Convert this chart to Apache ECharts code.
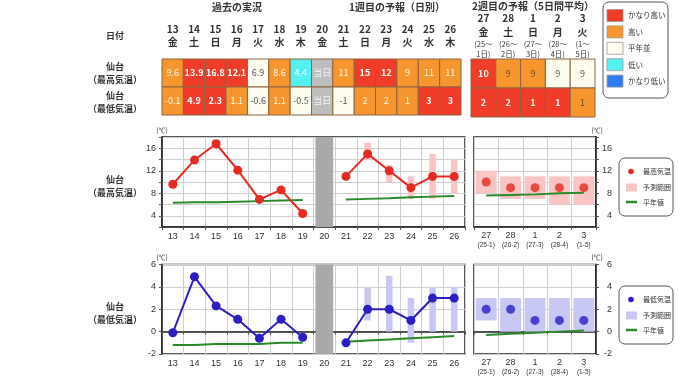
<!DOCTYPE html>
<html><head><meta charset="utf-8">
<script src="https://cdn.jsdelivr.net/npm/echarts@6/dist/echarts.min.js"></script>
<style>html,body{margin:0;padding:0;background:#fff}#c{width:680px;height:382px}</style>
</head><body><div id="c"></div>
<script>
// ---------- data ----------
const days = ['13','14','15','16','17','18','19','20','21','22','23','24','25','26'];
const weekdays = ['金','土','日','月','火','水','木','金','土','日','月','火','水','木'];
const maxValues = [9.6,13.9,16.8,12.1,6.9,8.6,4.4,null,11,15,12,9,11,11];
const minValues = [-0.1,4.9,2.3,1.1,-0.6,1.1,-0.5,null,-1,2,2,1,3,3];
const maxClass = ['H','VH','VH','VH','N','H','L','T','H','VH','VH','H','H','H'];
const minClass = ['H','VH','VH','H','N','H','N','T','N','H','H','H','VH','VH'];
const maxRangeLo = [null,null,null,null,null,null,null,null,null,14,10,7,7,8];
const maxRangeHi = [null,null,null,null,null,null,null,null,null,17,13,11,15,14];
const minRangeLo = [null,null,null,null,null,null,null,null,null,1,0,-1,0,0];
const minRangeHi = [null,null,null,null,null,null,null,null,null,4,5,3,4,4];
const maxNormal = [6.3,6.4,6.4,6.5,6.6,6.7,6.8,null,6.9,7.0,7.1,7.3,7.4,7.5];
const minNormal = [-1.2,-1.2,-1.1,-1.1,-1.1,-1.0,-1.0,null,-0.9,-0.8,-0.7,-0.6,-0.5,-0.4];
const todayIndex = 7;

const week2Days = ['27','28','1','2','3'];
const week2Wd = ['金','土','日','月','火'];
const week2Span = ['(25～','(26～','(27～','(28～','(1～'];
const week2SpanEnd = ['1日)','2日)','3日)','4日)','5日)'];
const week2Short = ['(25-1)','(26-2)','(27-3)','(28-4)','(1-5)'];
const week2Max = [10,9,9,9,9];
const week2Min = [2,2,1,1,1];
const week2MaxClass = ['VH','H','H','N','N'];
const week2MinClass = ['VH','VH','VH','VH','H'];
const week2MaxLo = [8,7,7,6,6];
const week2MaxHi = [12,11,11,11,11];
const week2MinLo = [1,0,0,0,0];
const week2MinHi = [3,3,3,3,3];
const week2MaxNormal = [7.6,7.7,7.8,8.0,8.1];
const week2MinNormal = [-0.3,-0.2,-0.1,0.0,0.1];

const classNames = ['かなり高い','高い','平年並','低い','かなり低い'];
// ---------- styles ----------
const FF = '"Noto Sans CJK JP", sans-serif';
const NF = '"Liberation Sans", sans-serif';
const CLS = {VH:'#f03c28', H:'#f7962e', N:'#fdfcee', L:'#55f0f0', VL:'#2f7cf2', T:'#bdbdbd'};
const legendCls = ['VH','H','N','L','VL'];
const RED = '#e62a22', BLUE = '#2a1ec4', GREEN = '#2a8a2a';
const PINK = '#f8c4c4', LAV = '#c8c8f4';

const chart = echarts.init(document.getElementById('c'));

function cellSeries(xi, yi, texts, classes, darkOrange){
  const cells = [];
  texts.forEach((row, r) => row.forEach((t, c) => cells.push({c, r, t, k: classes[r][c]})));
  return {
    type:'custom', xAxisIndex:xi, yAxisIndex:yi, clip:false, silent:true,
    data: cells.map(o => [o.c, o.r]),
    encode:{x:0, y:1},
    renderItem(params, api){
      const o = cells[params.dataIndex];
      const p = api.coord([api.value(0), api.value(1)]);
      const s = api.size([1,1]);
      let tc = '#fff', fw = 'bold';
      if (o.k === 'N') { tc = '#555'; fw = 'normal'; }
      if (o.k === 'H') { tc = darkOrange ? '#6a4a28' : '#fff8e8'; fw = 'normal'; }
      if (o.k === 'L') { tc = '#f4ffff'; fw = 'normal'; }
      if (o.k === 'T') { tc = '#f4f4f4'; fw = 'normal'; }
      return {type:'group', children:[
        {type:'rect', shape:{x:p[0]-s[0]/2, y:p[1]-s[1]/2, width:s[0], height:s[1]},
         style:{fill:CLS[o.k], stroke:'#8e6440', lineWidth:1}},
        {type:'text', x:p[0], y:p[1], style:{text:o.t, align:'center', verticalAlign:'middle',
         textAlign:'center', textVerticalAlign:'middle', fill:tc, font:fw+' 9px '+FF}}
      ]};
    }
  };
}

function rangeSeries(xi, lo, hi, color, ratio){
  const data = [];
  lo.forEach((v, i) => { if (v != null) data.push([i, v, hi[i]]); });
  return {
    type:'custom', xAxisIndex:xi, yAxisIndex:xi, silent:true, z:2,
    data, encode:{x:0, y:[1,2]},
    renderItem(params, api){
      const a = api.coord([api.value(0), api.value(2)]);
      const b = api.coord([api.value(0), api.value(1)]);
      const w = api.size([1,0])[0] * ratio;
      return {type:'rect', shape:{x:a[0]-w/2, y:a[1], width:w, height:b[1]-a[1]}, style:{fill:color}};
    }
  };
}

function bandSeries(xi, yv){
  return {
    type:'custom', xAxisIndex:xi, yAxisIndex:xi, silent:true, z:2, clip:false,
    data:[[todayIndex, yv]], encode:{x:0, y:1},
    renderItem(params, api){
      const cs = params.coordSys;
      const p = api.coord([api.value(0), api.value(1)]);
      const w = api.size([1,0])[0] * 0.82;
      return {type:'rect', shape:{x:p[0]-w/2, y:cs.y, width:w, height:cs.height}, style:{fill:'#a9a9a9'}};
    }
  };
}

function lineSeries(xi, data, color, isNormal){
  return isNormal ? {
    type:'line', xAxisIndex:xi, yAxisIndex:xi, data, showSymbol:false, symbol:'none', z:3,
    lineStyle:{color, width:2}, silent:true
  } : {
    type:'line', xAxisIndex:xi, yAxisIndex:xi, data, symbol:'circle', symbolSize:9, z:4,
    itemStyle:{color}, lineStyle:{color, width:2}, silent:true
  };
}

const gridBase = {show:true, borderColor:'#222', borderWidth:1.5, backgroundColor:'#fff'};
const grids = [
  {left:162, top:59, width:299, height:56},
  {left:471, top:59, width:124, height:58},
  Object.assign({left:162, top:137, width:303, height:90}, gridBase),
  Object.assign({left:474, top:137, width:122, height:90}, gridBase),
  Object.assign({left:162, top:264.5, width:303, height:89.5}, gridBase),
  Object.assign({left:474, top:264.5, width:122, height:89.5}, gridBase)
];

function chartX(gi, data, right){
  return {
    type:'category', gridIndex:gi, data, boundaryGap:true,
    axisLine:{show:true, lineStyle:{color:'#222', width:1.5}},
    axisTick:{show:true, length:3, lineStyle:{color:'#555'}},
    splitLine:{show:true, lineStyle:{color:'#cfcfcf', width:1}},
    axisLabel: right ? {
      margin:4, interval:0,
      formatter:(v, i) => '{a|' + v + '}\n{b|' + week2Short[i] + '}',
      rich:{a:{fontFamily:NF, fontSize:9, color:'#333', lineHeight:10}, b:{fontFamily:NF, fontSize:6.5, color:'#333', lineHeight:8}}
    } : {margin:5, interval:0, fontFamily:NF, fontSize:9, color:'#333'}
  };
}
function chartY(gi, min, max, labelFn, right){
  return {
    type:'value', gridIndex:gi, min, max, interval:2, position: right ? 'right' : 'left',
    axisLine:{show:true, lineStyle:{color:'#222', width:1.5}},
    axisTick:{show:true, length:3, lineStyle:{color:'#555'}},
    splitLine:{show:true, lineStyle:{color:'#cfcfcf', width:1}},
    axisLabel: Object.assign({show:true, formatter:labelFn, fontFamily:NF, fontSize:9, color:'#333'},
      right ? {align:'right', margin:16} : {margin:6})
  };
}
const topLbl = v => (v % 4 === 0) ? String(v) : '';
const botLbl = v => String(v);

const graphics = [];
function T(x, y, text, font, fill, align){
  graphics.push({type:'text', x, y, silent:true, style:{text, font, fill: fill || '#333',
    align: align || 'center', verticalAlign:'middle', textAlign: align || 'center', textVerticalAlign:'middle'}});
}
// headings
T(237, 7, '過去の実況', 'bold 10px ' + FF);
T(397, 7, '1週目の予報（日別）', 'bold 10px ' + FF);
T(533, 6, '2週目の予報（5日間平均）', 'bold 10px ' + FF);
T(115, 36, '日付', 'bold 9px ' + FF);
T(115, 67, '仙台', 'bold 9px ' + FF);
T(115, 80, '（最高気温）', 'bold 9px ' + FF);
T(115, 96, '仙台', 'bold 9px ' + FF);
T(115, 109, '（最低気温）', 'bold 9px ' + FF);
T(115, 180, '仙台', 'bold 9px ' + FF);
T(115, 193, '（最高気温）', 'bold 9px ' + FF);
T(115, 307, '仙台', 'bold 9px ' + FF);
T(115, 320, '（最低気温）', 'bold 9px ' + FF);
T(162, 130, '(℃)', '7px ' + FF);
T(597, 130, '(℃)', '7px ' + FF);
T(162, 257, '(℃)', '7px ' + FF);
T(597, 257, '(℃)', '7px ' + FF);
// class legend
graphics.push({type:'rect', shape:{x:603, y:2, width:65, height:96, r:6}, style:{fill:'#fff', stroke:'#555', lineWidth:1}});
legendCls.forEach((k, i) => {
  const cy = 15.5 + i * 16.4;
  graphics.push({type:'rect', shape:{x:607, y:cy-6, width:16, height:12}, style:{fill:CLS[k], stroke:'#999', lineWidth:0.8}});
  T(628, cy, classNames[i], '7.5px ' + FF, '#333', 'left');
});
// chart legends
function chartLegend(y0, dotColor, rangeColor, name){
  graphics.push({type:'rect', shape:{x:619, y:y0, width:54, height:58, r:6}, style:{fill:'#fff', stroke:'#555', lineWidth:1}});
  graphics.push({type:'circle', shape:{cx:631, cy:y0+13.5, r:2.8}, style:{fill:dotColor}});
  graphics.push({type:'rect', shape:{x:626, y:y0+25.5, width:11, height:8}, style:{fill:rangeColor}});
  graphics.push({type:'line', shape:{x1:626, y1:y0+44, x2:637, y2:y0+44}, style:{stroke:GREEN, lineWidth:2.5}});
  T(643, y0+13.5, name, '7px ' + FF, '#333', 'left');
  T(643, y0+29.5, '予測範囲', '7px ' + FF, '#333', 'left');
  T(643, y0+44, '平年値', '7px ' + FF, '#333', 'left');
}
chartLegend(158, RED, PINK, '最高気温');
chartLegend(286, BLUE, LAV, '最低気温');

const fmt = v => v == null ? '当日' : String(v);

const option = {
  animation:false,
  backgroundColor:'#fff',
  textStyle:{fontFamily:FF},
  grid: grids,
  xAxis: [
    {type:'category', gridIndex:0, data:days, position:'top', axisLine:{show:false}, axisTick:{show:false},
     axisLabel:{margin:10, interval:0, formatter:(v, i) => '{d|' + v + '}\n{w|' + weekdays[i] + '}',
       rich:{d:{fontFamily:FF, fontWeight:'bold', fontSize:10, color:'#333', lineHeight:13},
             w:{fontFamily:FF, fontWeight:'bold', fontSize:10, color:'#333', lineHeight:13}}}},
    {type:'category', gridIndex:1, data:week2Days, position:'top', axisLine:{show:false}, axisTick:{show:false},
     axisLabel:{margin:0, interval:0,
       formatter:(v, i) => '{d|' + v + '}\n{w|' + week2Wd[i] + '}\n{s|' + week2Span[i] + '}\n{s|' + week2SpanEnd[i] + '}',
       rich:{d:{fontFamily:FF, fontWeight:'bold', fontSize:10, color:'#333', lineHeight:14},
             w:{fontFamily:FF, fontWeight:'bold', fontSize:10, color:'#333', lineHeight:14},
             s:{fontFamily:FF, fontSize:7.5, color:'#333', lineHeight:10}}}},
    chartX(2, days, false),
    chartX(3, week2Days, true),
    chartX(4, days, false),
    chartX(5, week2Days, true)
  ],
  yAxis: [
    {type:'category', gridIndex:0, data:['max','min'], inverse:true, show:false},
    {type:'category', gridIndex:1, data:['max','min'], inverse:true, show:false},
    chartY(2, 2, 18, topLbl, false),
    chartY(3, 2, 18, topLbl, true),
    chartY(4, -2, 6, botLbl, false),
    chartY(5, -2, 6, botLbl, true)
  ],
  graphic: graphics,
  series: [
    cellSeries(0, 0, [maxValues.map(fmt), minValues.map(fmt)], [maxClass, minClass], false),
    cellSeries(1, 1, [week2Max.map(fmt), week2Min.map(fmt)], [week2MaxClass, week2MinClass], true),
    bandSeries(2, 10),
    rangeSeries(2, maxRangeLo, maxRangeHi, PINK, 0.3),
    lineSeries(2, maxNormal, GREEN, true),
    lineSeries(2, maxValues, RED, false),
    rangeSeries(3, week2MaxLo, week2MaxHi, PINK, 0.86),
    lineSeries(3, week2MaxNormal, GREEN, true),
    {type:'scatter', xAxisIndex:3, yAxisIndex:3, data:week2Max, symbolSize:9, itemStyle:{color:RED}, z:4, silent:true},
    bandSeries(4, 2),
    rangeSeries(4, minRangeLo, minRangeHi, LAV, 0.3),
    lineSeries(4, minNormal, GREEN, true),
    lineSeries(4, minValues, BLUE, false),
    rangeSeries(5, week2MinLo, week2MinHi, LAV, 0.86),
    lineSeries(5, week2MinNormal, GREEN, true),
    {type:'scatter', xAxisIndex:5, yAxisIndex:5, data:week2Min, symbolSize:9, itemStyle:{color:BLUE}, z:4, silent:true}
  ]
};
chart.setOption(option);
</script>
</body></html>
